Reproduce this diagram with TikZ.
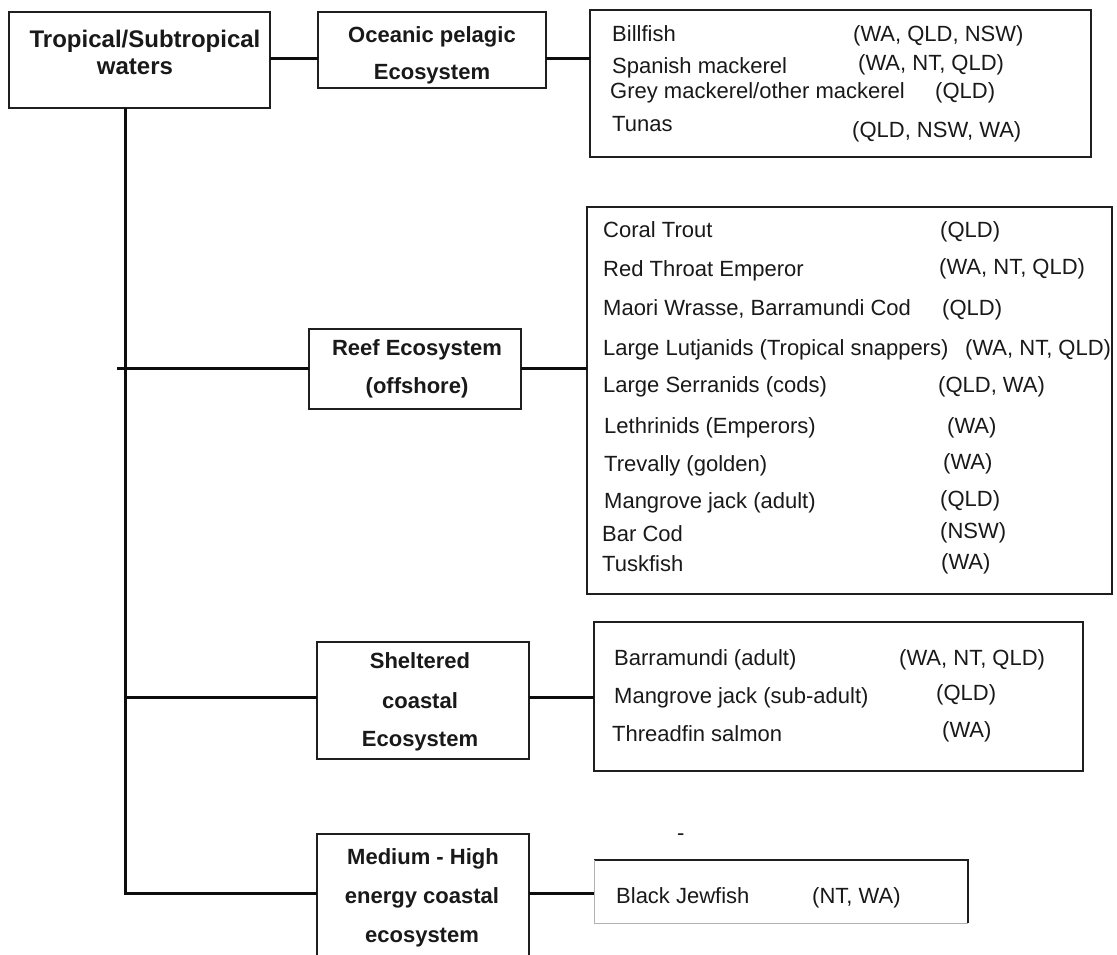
\documentclass[tikz,border=0pt]{standalone}
\usepackage{fontspec}
\setmainfont{Liberation Sans}
\begin{document}
\begin{tikzpicture}[x=1pt,y=-1pt,
  box/.style={draw=black!88, line width=1.5pt, inner sep=0pt, outer sep=0pt, anchor=north west},
  openbox/.style={draw=none, inner sep=0pt, outer sep=0pt, anchor=north west},
  conn/.style={draw=black!95, line width=3pt},
  txt/.style={inner sep=0pt, anchor=base west, text=black!90, font=\fontsize{22}{26}\selectfont},
  btxt/.style={inner sep=0pt, anchor=base, text=black!90, font=\fontsize{22}{26}\selectfont\bfseries},
  bbig/.style={btxt, font=\fontsize{24}{28}\selectfont\bfseries},
]
\useasboundingbox (0,0) rectangle (1117,954);
\clip (0,0) rectangle (1117,954);
\fill[white] (0,0) rectangle (1117,954);

% ---- boxes ----
\node[box, minimum width=261pt, minimum height=96pt] (trop) at (9,12) {};
\node[box, minimum width=228pt, minimum height=76pt] (ocean) at (318,12) {};
\node[box, minimum width=501pt, minimum height=147pt] (sp1) at (590,10) {};
\node[box, minimum width=212pt, minimum height=80pt] (reef) at (309,329) {};
\node[box, minimum width=525pt, minimum height=387pt] (sp2) at (587,207) {};
\node[box, minimum width=212pt, minimum height=117pt] (shel) at (317,642) {};
\node[box, minimum width=489pt, minimum height=149pt] (sp3) at (594,622) {};
\node[openbox, minimum width=212pt, minimum height=170pt] (med) at (317,834) {};
\draw[black!88, line width=1.5pt] (med.south west) -- (med.north west) -- (med.north east) -- (med.south east);
\node[openbox, minimum width=374pt, minimum height=63pt] (sp4) at (594,860) {};
\draw[black!88, line width=1.5pt] (sp4.north west) -- (sp4.north east) -- (sp4.south east);
\draw[black!30, line width=1pt] (sp4.south east) -- (sp4.south west) -- (sp4.north west);

% ---- box texts ----
\node[bbig] (tropA) at (145,47) {Tropical/Subtropical};
\node[bbig] (tropB) at (135,74) {waters};
\node[btxt] (oceanA) at (432,42) {Oceanic pelagic};
\node[btxt] (oceanB) at (432,79) {Ecosystem};
\node[btxt] (reefA) at (417,355) {Reef Ecosystem};
\node[btxt] (reefB) at (417,393) {(offshore)};
\node[btxt] (shelA) at (420,668) {Sheltered};
\node[btxt] (shelB) at (420,708) {coastal};
\node[btxt] (shelC) at (420,746) {Ecosystem};
\node[btxt] (medA) at (423,864) {Medium - High};
\node[btxt] (medB) at (422,903) {energy coastal};
\node[btxt] (medC) at (422,942) {ecosystem};

% ---- oceanic species ----
\node[txt] (s1a) at (612,41) {Billfish};
\node[txt] (s1ar) at (853,41) {(WA, QLD, NSW)};
\node[txt] (s1b) at (612,73) {Spanish mackerel};
\node[txt] (s1br) at (858,70) {(WA, NT, QLD)};
\node[txt] (s1c) at (610,98) {Grey mackerel/other mackerel};
\node[txt] (s1cr) at (935,98) {(QLD)};
\node[txt] (s1d) at (612,131) {Tunas};
\node[txt] (s1dr) at (852,137) {(QLD, NSW, WA)};

% ---- reef species ----
\node[txt] (s2a) at (603,237) {Coral Trout};
\node[txt] (s2ar) at (940,237) {(QLD)};
\node[txt] (s2b) at (603,276) {Red Throat Emperor};
\node[txt] (s2br) at (939,274) {(WA, NT, QLD)};
\node[txt] (s2c) at (603,315) {Maori Wrasse, Barramundi Cod};
\node[txt] (s2cr) at (942,315) {(QLD)};
\node[txt] (s2d) at (603,355) {Large Lutjanids (Tropical snappers)};
\node[txt] (s2dr) at (965,355) {(WA, NT, QLD)};
\node[txt] (s2e) at (603,392) {Large Serranids (cods)};
\node[txt] (s2er) at (938,392) {(QLD, WA)};
\node[txt] (s2f) at (604,433) {Lethrinids (Emperors)};
\node[txt] (s2fr) at (947,433) {(WA)};
\node[txt] (s2g) at (604,471) {Trevally (golden)};
\node[txt] (s2gr) at (943,469) {(WA)};
\node[txt] (s2h) at (604,508) {Mangrove jack (adult)};
\node[txt] (s2hr) at (940,506) {(QLD)};
\node[txt] (s2i) at (602,541) {Bar Cod};
\node[txt] (s2ir) at (940,538) {(NSW)};
\node[txt] (s2j) at (602,571) {Tuskfish};
\node[txt] (s2jr) at (941,569) {(WA)};

% ---- sheltered species ----
\node[txt] (s3a) at (614,665) {Barramundi (adult)};
\node[txt] (s3ar) at (899,665) {(WA, NT, QLD)};
\node[txt] (s3b) at (614,703) {Mangrove jack (sub-adult)};
\node[txt] (s3br) at (936,700) {(QLD)};
\node[txt] (s3c) at (612,741) {Threadfin salmon};
\node[txt] (s3cr) at (942,737) {(WA)};

% ---- high energy species ----
\node[txt] (dash) at (677,840) {-};
\node[txt] (s4a) at (616,903) {Black Jewfish};
\node[txt] (s4ar) at (812,903) {(NT, WA)};

% ---- connectors ----
\coordinate (r1) at (0,58);
\coordinate (r3) at (0,697);
\coordinate (r4) at (0,893);
\coordinate (tk) at (125,0);
\coordinate (stub) at (117,368);
\draw[conn] (trop.east |- r1) -- (ocean.west |- r1);
\draw[conn] (ocean.east |- r1) -- (sp1.west |- r1);
\draw[conn] (tk |- trop.south) -- (tk |- r4) -- (med.west |- r4);
\draw[conn] (stub) -- (reef.west |- stub);
\draw[conn] (reef.east |- stub) -- (sp2.west |- stub);
\draw[conn] (tk |- r3) -- (shel.west |- r3);
\draw[conn] (shel.east |- r3) -- (sp3.west |- r3);
\draw[conn] (med.east |- r4) -- (sp4.west |- r4);
\end{tikzpicture}
\end{document}
